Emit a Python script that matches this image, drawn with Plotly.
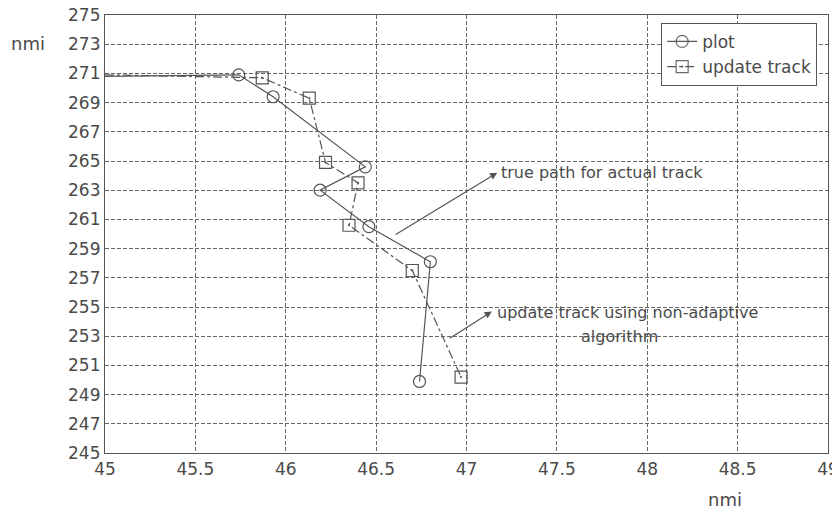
import plotly.graph_objects as go

# data (nmi)
plot_x = [45.0, 45.74, 45.93, 46.44, 46.19, 46.46, 46.80, 46.74]
plot_y = [270.8, 270.9, 269.4, 264.6, 263.0, 260.5, 258.1, 249.9]
upd_x = [45.0, 45.87, 46.13, 46.22, 46.40, 46.35, 46.70, 46.97]
upd_y = [270.9, 270.7, 269.3, 264.9, 263.5, 260.6, 257.5, 250.2]
x_ticks = [45, 45.5, 46, 46.5, 47, 47.5, 48, 48.5, 49]
y_ticks = list(range(245, 276, 2))

FONT = "DejaVu Sans, Verdana, sans-serif"
INK = "#4a4a4a"
LINE = "#555555"

fig = go.Figure()
fig.add_trace(go.Scatter(
    x=plot_x, y=plot_y, name="plot", mode="lines+markers",
    line=dict(color=LINE, width=1.2, dash="solid"),
    marker=dict(symbol="circle-open", size=12, color=LINE, line=dict(width=1.2),
                opacity=[0] + [1] * (len(plot_x) - 1)),
))
fig.add_trace(go.Scatter(
    x=upd_x, y=upd_y, name="update track", mode="lines+markers",
    line=dict(color=LINE, width=1.2, dash="dashdot"),
    marker=dict(symbol="square-open-dot", size=12, color=LINE, line=dict(width=1.2),
                opacity=[0] + [1] * (len(upd_x) - 1)),
))

# arrows and callout texts
fig.add_annotation(x=47.17, y=264.2, ax=46.60, ay=259.9, xref="x", yref="y",
                   axref="x", ayref="y", text="", showarrow=True,
                   arrowhead=2, arrowsize=1.2, arrowwidth=1.2, arrowcolor=LINE)
fig.add_annotation(x=47.18, y=264.2, xref="x", yref="y", text="true path for actual track",
                   showarrow=False, xanchor="left", yanchor="middle",
                   font=dict(family=FONT, size=16, color=INK))
fig.add_annotation(x=47.14, y=254.7, ax=46.90, ay=252.8, xref="x", yref="y",
                   axref="x", ayref="y", text="", showarrow=True,
                   arrowhead=2, arrowsize=1.2, arrowwidth=1.2, arrowcolor=LINE)
fig.add_annotation(x=47.16, y=254.6, xref="x", yref="y",
                   text="update track using non-adaptive",
                   showarrow=False, xanchor="left", yanchor="middle",
                   font=dict(family=FONT, size=16, color=INK))
fig.add_annotation(x=47.62, y=253.0, xref="x", yref="y", text="algorithm",
                   showarrow=False, xanchor="left", yanchor="middle",
                   font=dict(family=FONT, size=16, color=INK))

# axis unit labels
fig.add_annotation(x=(28 - 105) / 723, y=(453 - 44) / 438, xref="paper", yref="paper",
                   text="nmi", showarrow=False, xanchor="center", yanchor="middle",
                   font=dict(family=FONT, size=18, color=INK))
fig.add_annotation(x=(725 - 105) / 723, y=(453 - 500) / 438, xref="paper", yref="paper",
                   text="nmi", showarrow=False, xanchor="center", yanchor="middle",
                   font=dict(family=FONT, size=18, color=INK))

axis_common = dict(showline=True, linecolor=LINE, linewidth=1.2, mirror=True,
                   showgrid=True, gridcolor="#666666", gridwidth=1, griddash="4px,2px",
                   zeroline=False, ticks="", ticklabeloverflow="allow",
                   tickfont=dict(family=FONT, size=17, color=INK))
fig.update_xaxes(range=[45, 49], tickvals=x_ticks, ticktext=[str(v) for v in x_ticks],
                 **axis_common)
fig.update_yaxes(range=[245, 275], tickvals=y_ticks, ticktext=[str(v) for v in y_ticks],
                 **axis_common)

# page body has an 8px margin, so the figure is offset by (8, 8)
fig.update_layout(
    width=832, height=502,
    margin=dict(l=97, r=12, t=7, b=57, autoexpand=False),
    paper_bgcolor="white", plot_bgcolor="white",
    showlegend=True,
    legend=dict(x=0.985, y=0.982, xanchor="right", yanchor="top",
                bgcolor="white", bordercolor=LINE, borderwidth=1,
                font=dict(family=FONT, size=17, color=INK),
                itemwidth=30, tracegroupgap=0),
)

fig.write_html("out.html")
